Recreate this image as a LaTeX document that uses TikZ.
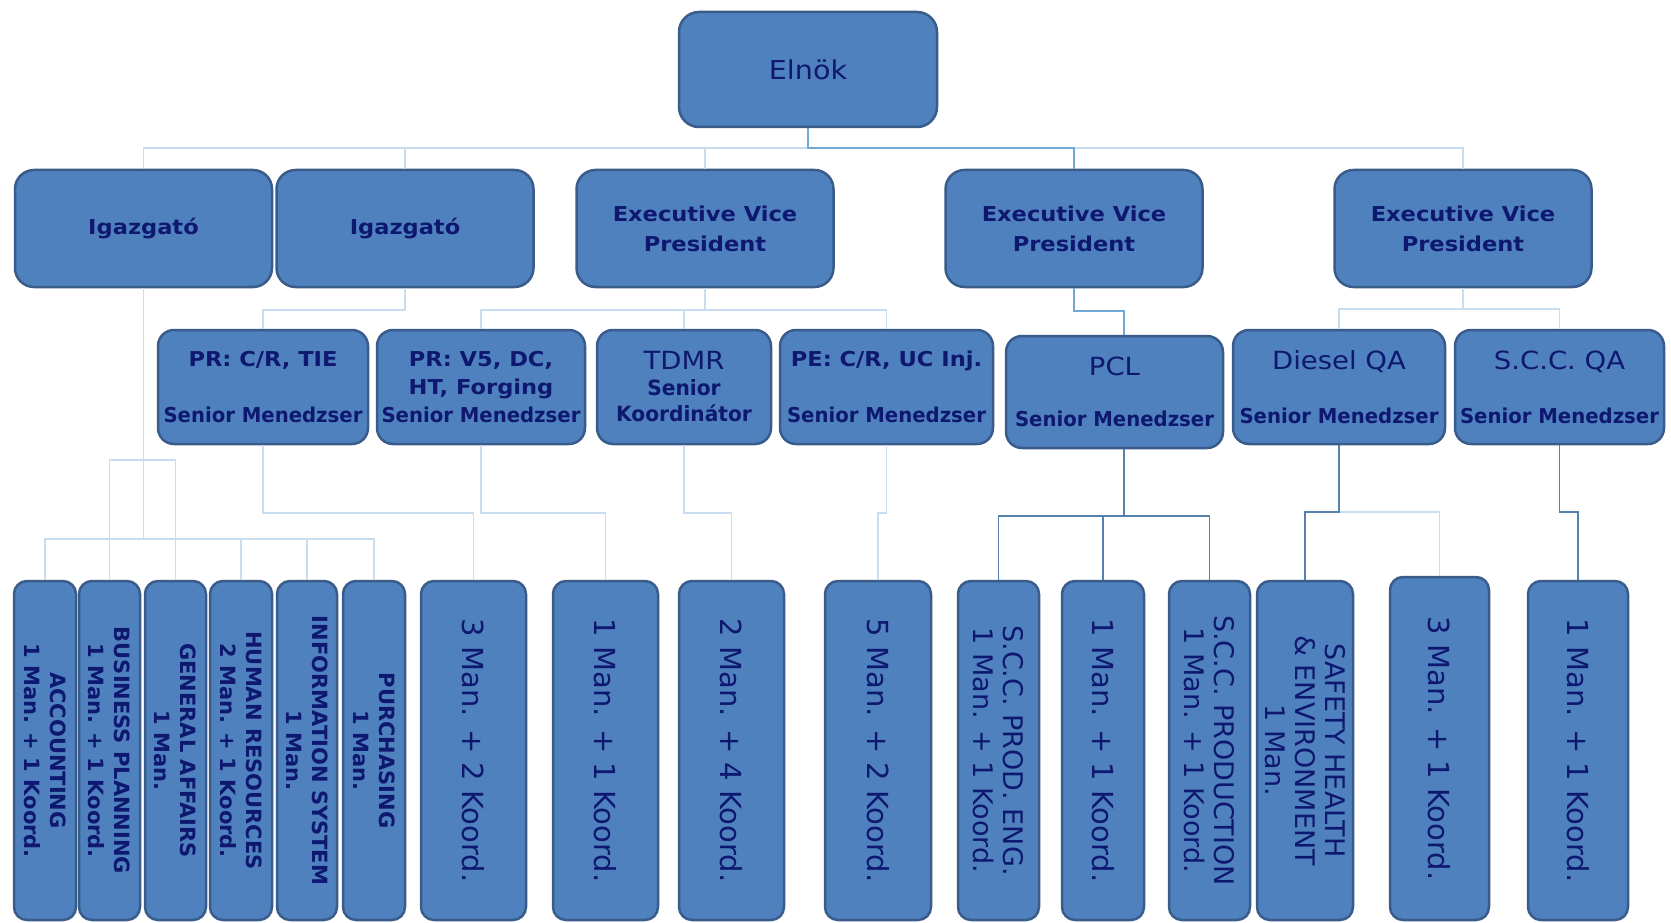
\documentclass[tikz,border=0pt]{standalone}
\usepackage{fontspec}
\setmainfont{DejaVu Sans}
\newfontfamily\widefont[FakeStretch=1.1]{DejaVu Sans}
\newfontfamily\narrowfont[FakeStretch=0.96]{DejaVu Sans}

\definecolor{boxfill}{RGB}{79,129,190}
\definecolor{boxedge}{RGB}{58,92,138}
\definecolor{navy}{RGB}{14,24,112}
\definecolor{linepale}{RGB}{200,222,240}
\definecolor{linemid}{RGB}{112,168,212}
\definecolor{linedark}{RGB}{88,128,172}

\newcommand{\unittitle}[1]{{\widefont\bfseries #1}}
\newcommand{\unitrole}[1]{{\narrowfont\bfseries #1}}
\newcommand{\unitmgr}{\unitrole{Senior Menedzser}}
\newcommand{\unitname}[1]{{\widefont\fontsize{25}{28}\selectfont #1}}

\begin{document}
\begin{tikzpicture}[x=1pt,y=-1pt,
  box/.style={draw=boxedge, fill=boxfill, line width=2.5pt, inner sep=0pt,
    text=navy, align=center},
  chief/.style={box, rounded corners=20pt, minimum width=258pt, minimum height=115pt,
    font=\widefont\fontsize{26}{30}\selectfont},
  head/.style={box, rounded corners=19pt, minimum width=257pt, minimum height=117pt,
    font=\widefont\bfseries\fontsize{20.5}{30}\selectfont},
  unit/.style={box, rounded corners=16pt, minimum height=114pt,
    font=\widefont\fontsize{20.5}{28}\selectfont},
  staff/.style={box, rotate=-90, rounded corners=13pt, minimum width=339pt,
    font=\fontsize{29}{34}\selectfont},
  dept/.style={staff, font=\bfseries\fontsize{21}{26}\selectfont},
  deptwide/.style={staff, font=\fontsize{27}{30}\selectfont},
  conpale/.style={draw=linepale, line width=1.8pt},
  conmid/.style={draw=linemid, line width=1.8pt},
  condark/.style={draw=linedark, line width=1.8pt},
]
\fill[white] (0,0) rectangle (1671,923);
\useasboundingbox (0,0) rectangle (1671,923);

% ---- top ----
\node[chief] (elnok) at (808,69.5) {Elnök};

% ---- second level ----
\node[head] (ig1)  at (143.5,228.5) {Igazgató};
\node[head] (ig2)  at (405,228.5)   {Igazgató};
\node[head] (evp1) at (705,228.5)   {Executive Vice\\President};
\node[head] (evp2) at (1074,228.5)  {Executive Vice\\President};
\node[head] (evp3) at (1463,228.5)  {Executive Vice\\President};

% ---- third level ----
\node[unit, minimum width=210pt] (prcr) at (263,387)
  {\unittitle{PR: C/R, TIE}\\[28pt]\unitmgr};
\node[unit, minimum width=208pt] (prv5) at (481,387)
  {\unittitle{PR: V5, DC,}\\\unittitle{HT, Forging}\\\unitmgr};
\node[unit, minimum width=174pt, font=\widefont\fontsize{21}{26}\selectfont] (tdmr) at (684,387)
  {\unitname{TDMR}\\\unitrole{Senior}\\\unitrole{Koordinátor}};
\node[unit, minimum width=213pt] (pe) at (886.5,387)
  {\unittitle{PE: C/R, UC Inj.}\\[28pt]\unitmgr};
\node[unit, minimum width=217pt, minimum height=112pt] (pcl) at (1114.5,392)
  {\unitname{PCL}\\[23pt]\unitmgr};
\node[unit, minimum width=212pt] (diesel) at (1339,387)
  {\unitname{Diesel QA}\\[26pt]\unitmgr};
\node[unit, minimum width=209pt] (sccqa) at (1559.5,387)
  {\unitname{S.C.C. QA}\\[26pt]\unitmgr};

% ---- staff level ----
\node[dept, minimum height=62pt] (acc) at (45,750.5) {ACCOUNTING\\1 Man. + 1 Koord.};
\node[dept, minimum height=61pt] (bp)  at (109.5,750.5) {BUSINESS PLANNING\\1 Man. + 1 Koord.};
\node[dept, minimum height=61pt] (ga)  at (175.5,750.5) {GENERAL AFFAIRS\\1 Man.};
\node[dept, minimum height=62pt] (hr)  at (241,750.5) {HUMAN RESOURCES\\2 Man. + 1 Koord.};
\node[dept, minimum height=60pt] (is)  at (307,750.5) {INFORMATION SYSTEM\\1 Man.};
\node[dept, minimum height=62pt] (pur) at (374,750.5) {PURCHASING\\1 Man.};

\node[staff, minimum height=105pt] (mA) at (473.5,750.5) {3 Man. + 2 Koord.};
\node[staff, minimum height=105pt] (mB) at (605.5,750.5) {1 Man. + 1 Koord.};
\node[staff, minimum height=105pt] (mC) at (731.5,750.5) {2 Man. + 4 Koord.};
\node[staff, minimum height=106pt] (mD) at (878,750.5)   {5 Man. + 2 Koord.};

\node[deptwide, minimum height=81pt] (sccpe) at (998.5,750.5) {S.C.C. PROD. ENG.\\1 Man. + 1 Koord.};
\node[staff, minimum height=82pt] (mE) at (1103,750.5) {1 Man. + 1 Koord.};
\node[deptwide, minimum height=81pt] (sccp) at (1209.5,750.5) {S.C.C. PRODUCTION\\1 Man. + 1 Koord.};
\node[deptwide, minimum height=96pt] (safe) at (1305,750.5) {SAFETY HEALTH\\\& ENVIRONMENT\\1 Man.};
\node[staff, minimum width=343pt, minimum height=99pt] (mF) at (1439.5,748.5) {3 Man. + 1 Koord.};
\node[staff, minimum height=100pt] (mG) at (1578,750.5) {1 Man. + 1 Koord.};

% ---- connectors: president to second level ----
\draw[conpale] (elnok.south) -- ++(0,20) -| (ig1.north);
\draw[conpale] (elnok.south) -- ++(0,20) -| (ig2.north);
\draw[conpale] (elnok.south) -- ++(0,20) -| (evp1.north);
\draw[conpale] (elnok.south) -- ++(0,20) -| (evp3.north);
\draw[conmid]  (elnok.south) -- ++(0,20) -| (evp2.north);

% ---- second to third level ----
\draw[conpale] (ig2.south)  -- ++(0,22) -| (prcr.north);
\draw[conpale] (evp1.south) -- ++(0,22) -| (prv5.north);
\draw[conpale] (evp1.south) -- ++(0,22) -| (tdmr.north);
\draw[conpale] (evp1.south) -- ++(0,22) -| (pe.north);
\draw[conmid]  (evp2.south) -- ++(0,23) -| ([xshift=9.5pt]pcl.north);
\draw[conpale] (evp3.south) -- ++(0,21) -| (diesel.north);
\draw[conpale] (evp3.south) -- ++(0,21) -| (sccqa.north);

% ---- to staff level ----
\foreach \d in {acc,bp,ga,hr,is,pur}
  \draw[conpale] (ig1.south) -- ++(0,251) -| (\d.west);
\draw[conpale] (bp.west) -- ++(0,-120) -| (ga.west);
\draw[conpale] (prcr.south) -- ++(0,68) -| (mA.west);
\draw[conpale] (prv5.south) -- ++(0,68) -| (mB.west);
\draw[conpale] (tdmr.south) -- ++(0,68) -| (mC.west);
\draw[conpale] (pe.south)   -- ++(0,68) -| (mD.west);
\foreach \d in {sccpe,mE,sccp}
  \draw[condark] ([xshift=9.5pt]pcl.south) -- ++(0,67) -| (\d.west);
\draw[conpale] (diesel.south) -- ++(0,67) -| (mF.west);
\draw[condark] (diesel.south) -- ++(0,67) -| (safe.west);
\draw[condark] (sccqa.south)  -- ++(0,67) -| (mG.west);
\end{tikzpicture}
\end{document}
